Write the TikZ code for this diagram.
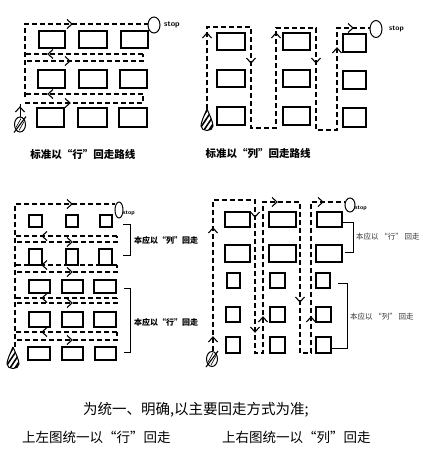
\documentclass[tikz,border=0pt]{standalone}
\usepackage{fontspec}
\newfontfamily\cjk{Noto Sans CJK SC}
\usetikzlibrary{arrows.meta}

\begin{document}
\begin{tikzpicture}[
        x=1pt, y=-1pt,
        font=\cjk,
        shelf/.style={draw, line width=1.2pt},
        route/.style={line width=1.1pt, dash pattern=on 5pt off 3pt},
        brk/.style={line width=1pt},
        captxt/.style={font=\cjk\bfseries\fontsize{10.5}{12}\selectfont, inner sep=0pt},
        note/.style={font=\cjk\bfseries\fontsize{8}{10}\selectfont, inner sep=0pt, anchor=west},
        thinnote/.style={font=\cjk\fontsize{7.5}{10}\selectfont, inner sep=0pt, anchor=west, text=black!80},
        stoptxt/.style={font=\sffamily\bfseries\fontsize{#1}{9}\selectfont, inner sep=0pt, anchor=west},
        body/.style={font=\cjk\fontsize{13.5}{16}\selectfont, inner sep=0pt},
        chev/.pic={\draw[line width=1.1pt] (-5,-4.5) -- (0,0) -- (-5,4.5);},
        drop/.pic={
                \begin{scope}
                    \clip (0,-12) .. controls (3,-5) and (6,1) .. (6,5) .. controls (6,11) and (-6,11) .. (-6,5) .. controls (-6,1) and (-3,-5) .. (0,-12);
                    \foreach \k in {-12,-7,...,13} \draw[line width=1.6pt] (\k-8,12) -- (\k+8,-12);
                \end{scope}
                \draw[line width=1pt] (0,-12) .. controls (3,-5) and (6,1) .. (6,5) .. controls (6,11) and (-6,11) .. (-6,5) .. controls (-6,1) and (-3,-5) .. (0,-12);
            },
        slashmark/.pic={
                \draw[line width=1pt] (0,0) ellipse [x radius=5.5, y radius=7.5];
                \draw[line width=1.1pt] (-6,8) -- (6,-8);
                \draw[line width=0.6pt] (-4,3) -- (1,-6);
                \draw[line width=0.6pt] (-1,6) -- (4,-3);
            },
    ]
    \useasboundingbox (0,0) rectangle (425,453);

    % panel 1: by rows
    \foreach \xa/\xb/\ya/\yb in {39/65/31/48,79/107/31/48,121/148/31/48,
            38/65/70/88,79/107/70/88,120/147/70/88,
            37/64/108/127,78/107/108/127,119/147/108/127}
    \draw[shelf] (\xa,\ya) rectangle (\xb,\yb);
    \draw[route] (25,97) -- (25,24) -- (148,24);
    \draw[route] (143,54) -- (25,54);
    \draw[route] (27,61) -- (143,61) -- (143,54);
    \draw[route] (143,94) -- (25,94);
    \draw[route] (25,103) -- (143,103) -- (143,94);
    \draw[line width=1pt] (20,117) -- (20,104);
    \pic at (72,24) {chev};
    \pic[rotate=180] at (48,54) {chev};
    \pic at (70,61) {chev};
    \pic[rotate=180] at (48,94) {chev};
    \pic at (70,103) {chev};
    \pic[rotate=90] at (20,107) {chev};
    \pic at (20,124.5) {slashmark};
    \draw[line width=1pt] (154,25) ellipse [x radius=6, y radius=8];
    \node[stoptxt=8] (stop1) at (164,25) {stop};
    \node[captxt] (cap1) at (83,154) {标准以“行”回走路线};

    % panel 2: by columns
    \foreach \xa/\xb/\ya/\yb in {217/245/33/50,217/245/70/87,217/245/107/125,
            283/310/33/50,283/310/70/87,283/310/107/125,
            343/366/34/52,343/366/71/89,343/366/108/127}
    \draw[shelf] (\xa,\ya) rectangle (\xb,\yb);
    \draw[route] (207,109) -- (207,27) -- (251,27) -- (251,128) -- (276,128) -- (276,28) -- (316,28)
        -- (316,130) -- (337,130) -- (337,28) -- (370,28);
    \pic[rotate=90] at (207,33) {chev};
    \pic[rotate=-90] at (251,63) {chev};
    \pic[rotate=90] at (276,33) {chev};
    \pic[rotate=-90] at (316,63) {chev};
    \pic[rotate=90] at (337,48) {chev};
    \pic at (353,28) {chev};
    \pic at (207,121) {drop};
    \draw[line width=1pt] (376,29) ellipse [x radius=6, y radius=8.5];
    \node[stoptxt=7.5] (stop2) at (389,29) {stop};
    \node[captxt] (cap2) at (258,153) {标准以“列”回走路线};

    % panel 3
    \foreach \xa/\xb/\ya/\yb in {29/42/215/227,66/78/215/227,100/112/215/227,
            29/42/249/265,66/78/249/265,99/112/249/265,
            29/50/280/293,62/83/280/293,94/116/280/293,
            29/50/312/327,62/83/312/327,94/116/312/327,
            28/50/347/360,62/83/347/360,95/116/347/360}
    \draw[shelf] (\xa,\ya) rectangle (\xb,\yb);
    \draw[route] (15,347) -- (15,204) -- (115,204);
    \pic at (72,204) {chev};
    \foreach \ya/\yb in {236/242,265/272,298/303,332/340} {
        \draw[route] (117,\ya) -- (15,\ya);
        \draw[route] (17,\yb) -- (117,\yb) -- (117,\ya);
        \pic[rotate=180] at (42,\ya) {chev};
        \pic at (72,\yb) {chev};
    }
    \pic at (13,359) {drop};
    \draw[line width=1pt] (119,210) ellipse [x radius=4, y radius=8];
    \node[stoptxt=6] (stop3) at (123,213) {stop};
    \draw[brk] (123,224) -- (130,224) -- (130,255) -- (123,255);
    \draw[brk] (124,288) -- (130,288) -- (130,352) -- (124,352);
    \node[note] (n31) at (134,240) {本应以“列”回走};
    \node[note] (n32) at (134,322) {本应以“行”回走};

    % panel 4
    \foreach \xa/\xb/\ya/\yb in {225/250/212/227,269/296/212/227,317/342/212/227,
            225/250/245/262,269/296/245/262,316/342/245/262,
            227/240/273/288,270/285/273/288,316/330/273/288,
            226/240/307/322,270/285/307/322,316/331/307/322,
            226/240/337/353,270/285/337/353,316/331/337/353}
    \draw[shelf] (\xa,\ya) rectangle (\xb,\yb);
    \draw[route] (213,351) -- (213,200) -- (255,200) -- (255,353) -- (263,353) -- (263,202) -- (300,202)
        -- (300,353) -- (311,353) -- (311,202) -- (345,202);
    \pic[rotate=90] at (213,228) {chev};
    \pic[rotate=90] at (213,337) {chev};
    \pic[rotate=-90] at (255,217) {chev};
    \pic[rotate=-90] at (255,332) {chev};
    \pic[rotate=90] at (263,317) {chev};
    \pic at (277,202) {chev};
    \pic[rotate=-90] at (300,302) {chev};
    \pic[rotate=90] at (311,317) {chev};
    \pic at (323,202) {chev};
    \pic at (212,359) {slashmark};
    \draw[line width=1pt] (350,205) ellipse [x radius=5, y radius=7];
    \node[stoptxt=6] (stop4) at (355,208) {stop};
    \draw[brk] (343,222) -- (353,222) -- (353,252) -- (345,252);
    \draw[brk] (338,283) -- (347,283) -- (347,348) -- (332,348);
    \node[thinnote] (n41) at (356,237) {本应以 “行” 回走};
    \node[thinnote] (n42) at (350,317) {本应以 “列” 回走};

    % notes below
    \node[body, font=\cjk\fontsize{14.5}{16}\selectfont] (rule) at (196,410) {为统一、明确,以主要回走方式为准;};
    \node[body, anchor=west] (left) at (22,437) {上左图统一以“行”回走};
    \node[body, anchor=west] (right) at (222,437) {上右图统一以“列”回走};
\end{tikzpicture}
\end{document}
